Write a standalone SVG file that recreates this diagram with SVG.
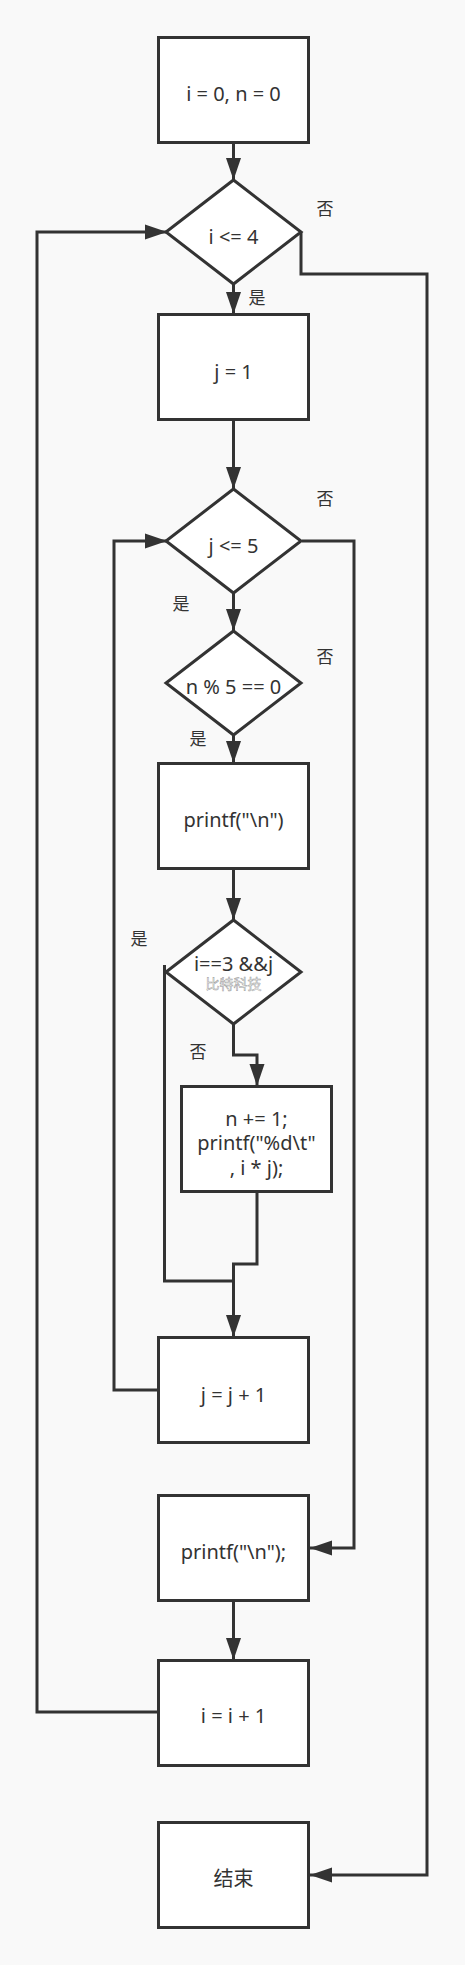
<svg xmlns="http://www.w3.org/2000/svg" width="465" height="1965" viewBox="0 0 465 1965">
<style>
.bg{fill:#f9f9f9}
.node rect,.node polygon{fill:#ffffff;stroke:#333333;stroke-width:3}
.t{font-family:"Noto Sans","Noto Sans CJK SC",sans-serif;font-size:20px;fill:#333333;text-anchor:middle;dominant-baseline:central}
.lbl{font-family:"Noto Sans CJK SC","Noto Sans",sans-serif;font-size:17px;fill:#333333;text-anchor:middle;dominant-baseline:central}
.wm{font-family:"Noto Sans CJK SC",sans-serif;font-size:14px;fill:#ffffff;stroke:#999999;stroke-width:0.5;text-anchor:middle;dominant-baseline:central}
.c path{fill:none;stroke:#333333;stroke-width:3}
</style>
<defs>
<marker id="ah" markerUnits="userSpaceOnUse" markerWidth="23" markerHeight="16" refX="22" refY="8" orient="auto" viewBox="0 0 23 16">
<path d="M0,0.5 L22,8 L0,15.5 z" fill="#333333"/>
</marker>
</defs>
<rect class="bg" x="0" y="0" width="465" height="1965"/>
<g id="connectors" class="c">
<path d="M233.5,143 V180" marker-end="url(#ah)"/>
<path d="M301,232 V274 H427 V1875 H310" marker-end="url(#ah)"/>
<path d="M233.5,284 V314" marker-end="url(#ah)"/>
<path d="M233.5,420 V489" marker-end="url(#ah)"/>
<path d="M302,541 H354 V1548 H310" marker-end="url(#ah)"/>
<path d="M233.5,593 V631" marker-end="url(#ah)"/>
<path d="M233.5,735 V763" marker-end="url(#ah)"/>
<path d="M233.5,868 V920" marker-end="url(#ah)"/>
<path d="M233.5,1023 V1055 H257 V1086" marker-end="url(#ah)"/>
<path d="M164.5,965 V1281 H233.5 V1337" marker-end="url(#ah)"/>
<path d="M257,1191 V1264 H233.5 V1281"/>
<path d="M158,1390 H114 V541 H167" marker-end="url(#ah)"/>
<path d="M233.5,1600 V1660" marker-end="url(#ah)"/>
<path d="M158,1712 H37 V232 H167" marker-end="url(#ah)"/>
</g>
<g id="n1" class="node"><rect x="158.5" y="37.5" width="150" height="105"/><text class="t" x="233.5" y="93">i = 0, n = 0</text></g>
<g id="d1" class="node"><polygon points="233.5,180 301,232 233.5,284 166,232"/><text class="t" x="233.5" y="236">i &lt;= 4</text></g>
<g id="n2" class="node"><rect x="158.5" y="314.5" width="150" height="105"/><text class="t" x="233.5" y="371">j = 1</text></g>
<g id="d2" class="node"><polygon points="233.5,489 301,541 233.5,593 166,541"/><text class="t" x="233.5" y="545">j &lt;= 5</text></g>
<g id="d3" class="node"><polygon points="233.5,631 301,683 233.5,735 166,683"/><text class="t" x="233.5" y="686">n % 5 == 0</text></g>
<g id="n3" class="node"><rect x="158.5" y="763.5" width="150" height="105"/><text class="t" x="233.5" y="819">printf("\n")</text></g>
<g id="d4" class="node"><polygon points="233.5,920 301,972 233.5,1024 166,972"/><text class="t" x="233.5" y="963">i==3 &amp;&amp;j</text><text class="wm" x="233.5" y="983">比特科技</text></g>
<g id="n4" class="node"><rect x="181.5" y="1086.5" width="150" height="105"/><text class="t" x="256.5" y="1118">n += 1;</text><text class="t" x="256.5" y="1142">printf("%d\t"</text><text class="t" x="256.5" y="1167">, i * j);</text></g>
<g id="n5" class="node"><rect x="158.5" y="1337.5" width="150" height="105"/><text class="t" x="233.5" y="1394">j = j + 1</text></g>
<g id="n6" class="node"><rect x="158.5" y="1495.5" width="150" height="105"/><text class="t" x="233.5" y="1551">printf("\n");</text></g>
<g id="n7" class="node"><rect x="158.5" y="1660.5" width="150" height="105"/><text class="t" x="233.5" y="1715">i = i + 1</text></g>
<g id="n8" class="node"><rect x="158.5" y="1822.5" width="150" height="105"/><text class="t" x="233.5" y="1877" style="font-family:'Noto Sans CJK SC',sans-serif">结束</text></g>
<g id="labels">
<text class="lbl" x="325" y="207">否</text>
<text class="lbl" x="257" y="296">是</text>
<text class="lbl" x="325" y="497">否</text>
<text class="lbl" x="181" y="602">是</text>
<text class="lbl" x="325" y="655">否</text>
<text class="lbl" x="198" y="737">是</text>
<text class="lbl" x="139" y="937">是</text>
<text class="lbl" x="198" y="1050">否</text>
</g>
</svg>
